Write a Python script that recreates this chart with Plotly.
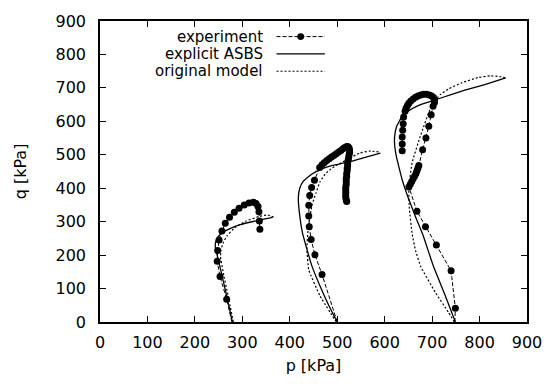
import plotly.graph_objects as go

# ---- Test 1 (lowest confining pressure) ----
t1_exp_p = [278, 267, 253, 247, 248, 251, 257, 264, 273, 283, 293, 304, 314, 323, 329, 333, 335, 336, 337]
t1_exp_q = [0, 68, 136, 182, 214, 245, 272, 295, 313, 328, 340, 350, 356, 358, 354, 345, 330, 302, 277]
t1_asbs_p = [279, 267, 256, 247, 243, 244, 249, 259, 275, 296, 318, 340, 364]
t1_asbs_q = [0, 78, 146, 200, 225, 240, 255, 268, 280, 291, 299, 306, 313]
t1_orig_p = [281, 270, 260, 254, 255, 260, 268, 284, 308, 336, 353, 366]
t1_orig_q = [0, 78, 146, 195, 215, 238, 258, 282, 302, 316, 320, 314]

# ---- Test 2 ----
t2_exp_p = [500, 468, 453, 445, 441, 440, 440, 442, 446, 452,
            463, 468, 473, 478, 483, 488, 493, 498, 503, 508, 512, 516, 520, 523,
            525, 526, 526, 525, 524, 523, 522, 522, 521, 521, 520, 520, 519, 519,
            519, 518, 518, 518, 518, 518, 519, 520]
t2_exp_q = [0, 142, 201, 247, 285, 317, 349, 378, 402, 424,
            462, 470, 477, 483, 488, 493, 498, 503, 508, 513, 518, 522, 525, 524,
            520, 514, 507, 500, 492, 484, 476, 468, 460, 452, 444, 436, 428, 420,
            412, 404, 396, 388, 380, 372, 365, 360]
t2_asbs_p = [500, 482, 466, 446, 427, 420, 418, 421, 428, 446, 468, 490, 520, 555, 591]
t2_asbs_q = [0, 50, 100, 170, 265, 330, 370, 400, 420, 442, 458, 468, 477, 491, 505]
t2_orig_p = [498, 463, 440, 436, 439, 447, 455, 464, 475, 487, 500, 520, 547, 568, 590]
t2_orig_q = [0, 80, 156, 220, 282, 350, 385, 420, 443, 458, 470, 485, 505, 511, 508]

# ---- Test 3 (highest confining pressure) ----
t3_exp_p = [748, 749, 740, 709, 686, 668,
            651, 654, 657, 660, 663, 666, 668, 670, 672,
            680, 687, 693, 698, 702,
            705, 705, 703, 699, 694, 688, 682, 676, 670, 665, 660, 655, 651, 648, 645, 643,
            640, 639, 638, 637, 637, 637]
t3_exp_q = [0, 41, 153, 230, 285, 331,
            404, 412, 420, 428, 436, 444, 452, 460, 468,
            515, 550, 585, 620, 645,
            656, 664, 671, 676, 679, 681, 681, 679, 676, 672, 667, 661, 654, 647, 639, 630,
            613, 593, 573, 553, 532, 512]
t3_asbs_p = [749, 728, 703, 680, 665, 650, 638, 631, 624, 621, 621, 625, 636, 651, 672, 700, 740, 769, 811, 855]
t3_asbs_q = [0, 78, 166, 263, 315, 370, 420, 458, 500, 530, 555, 584, 613, 632, 648, 661, 680, 693, 710, 730]
t3_orig_p = [747, 734, 707, 676, 665, 658, 652, 651, 658, 675, 700, 717, 735, 762, 797, 824, 842, 855]
t3_orig_q = [0, 30, 88, 166, 214, 263, 340, 404, 477, 555, 651, 680, 697, 715, 731, 736, 734, 730]

tests = [
    (t1_exp_p, t1_exp_q, t1_asbs_p, t1_asbs_q, t1_orig_p, t1_orig_q),
    (t2_exp_p, t2_exp_q, t2_asbs_p, t2_asbs_q, t2_orig_p, t2_orig_q),
    (t3_exp_p, t3_exp_q, t3_asbs_p, t3_asbs_q, t3_orig_p, t3_orig_q),
]

legend_labels = ["experiment", "explicit ASBS", "original model"]
ticks = list(range(0, 901, 100))

W, H = 554, 384
ML, MR, MT, MB = 100, 21, 15, 60
FONT = "DejaVu Sans"
FS = 16
KEY_FS = 15
DOT = "2px,2px"
DASH = "4px,2px"
MSIZE = 7

fig = go.Figure()
for exp_p, exp_q, asbs_p, asbs_q, orig_p, orig_q in tests:
    fig.add_trace(go.Scatter(
        x=orig_p, y=orig_q, mode="lines", showlegend=False,
        line=dict(color="black", width=1.2, dash=DOT, shape="spline", smoothing=0.35)))
    fig.add_trace(go.Scatter(
        x=asbs_p, y=asbs_q, mode="lines", showlegend=False,
        line=dict(color="black", width=1.3, shape="spline", smoothing=0.35)))
    # the first sample (q = 0) is the start of the path and carries no symbol
    sizes = [0] + [MSIZE] * (len(exp_p) - 1)
    fig.add_trace(go.Scatter(
        x=exp_p, y=exp_q, mode="lines+markers", showlegend=False,
        line=dict(color="black", width=1.0, dash=DASH),
        marker=dict(size=sizes, color="black", opacity=1, line=dict(width=0))))

# key drawn gnuplot-style: right-aligned text with the sample to its right
pw, ph = W - ML - MR, H - MT - MB
def px(x):
    return (x - ML) / pw
def py(y):
    return (H - MB - y) / ph

rows_y = [31, 48.8, 66.6]
text_right = 266
sample_x0, sample_x1 = 279, 328
styles = [dict(dash=DASH, width=1.0), dict(dash="solid", width=1.3), dict(dash=DOT, width=1.2)]
shapes = []
annotations = []
for label, yy, st in zip(legend_labels, rows_y, styles):
    annotations.append(dict(
        x=px(text_right), y=py(yy), xref="paper", yref="paper", text=label,
        showarrow=False, xanchor="right", yanchor="middle", borderpad=0,
        font=dict(family=FONT, size=KEY_FS, color="black")))
    shapes.append(dict(
        type="line", xref="paper", yref="paper",
        x0=px(sample_x0), x1=px(sample_x1), y0=py(yy), y1=py(yy),
        line=dict(color="black", width=st["width"], dash=st["dash"])))
cx = (sample_x0 + sample_x1) / 2
r = MSIZE / 2
shapes.append(dict(
    type="circle", xref="paper", yref="paper",
    x0=px(cx - r), x1=px(cx + r), y0=py(rows_y[0] + r), y1=py(rows_y[0] - r),
    fillcolor="black", line=dict(width=0)))

axis_common = dict(
    range=[0, 900], tickvals=ticks, ticks="inside", ticklen=6, tickwidth=1,
    tickcolor="black", showline=True, linecolor="black", linewidth=1.5,
    mirror="ticks", showgrid=False, zeroline=False,
    tickfont=dict(family=FONT, size=FS, color="black"),
)

fig.update_layout(
    width=W, height=H,
    margin=dict(l=ML, r=MR, t=MT, b=MB),
    paper_bgcolor="white", plot_bgcolor="white",
    xaxis=dict(axis_common, title=dict(text="p [kPa]", standoff=9,
               font=dict(family=FONT, size=FS, color="black")), ticklabelstandoff=5),
    yaxis=dict(axis_common, title=dict(text="q [kPa]", standoff=25,
               font=dict(family=FONT, size=FS, color="black")), ticklabelstandoff=9),
    shapes=shapes, annotations=annotations,
    showlegend=False,
)

fig.write_html("out.html")
